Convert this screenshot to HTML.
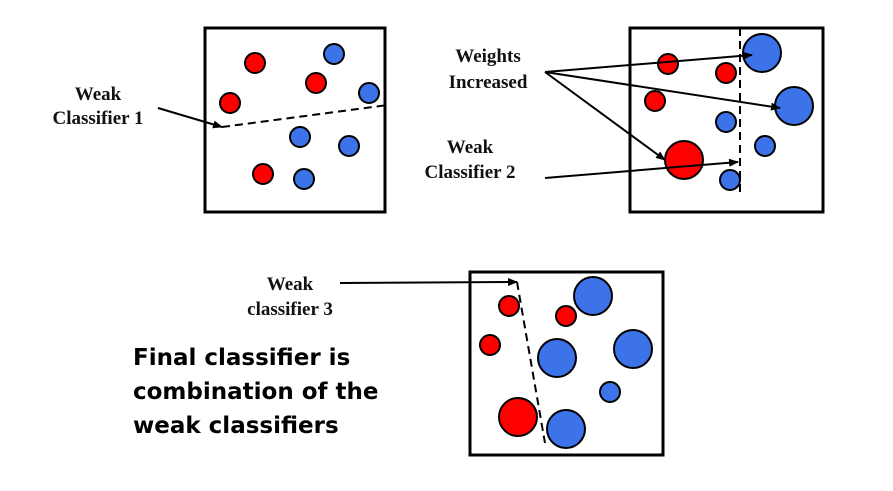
<!DOCTYPE html>
<html><head><meta charset="utf-8"><style>
body{margin:0;background:#fff}
svg{display:block}
.lbl{font-family:"Liberation Serif",serif;font-weight:bold;font-size:19px;fill:#111}
.fin{font-family:"DejaVu Sans","Liberation Sans",sans-serif;font-weight:bold;font-size:23px;fill:#000}
</style></head><body>
<svg width="893" height="491" viewBox="0 0 893 491">
<defs><marker id="ah" markerWidth="5" markerHeight="4" refX="4.5" refY="2" orient="auto"><path d="M0,0 L5,2 L0,4 z" fill="#000"/></marker></defs>
<g id="root"></g>
</svg>
<script>
const boxes=[[205,28,385,212],[630,28,823,212],[470,272,663,455]];
const circles1=[["r",255,63,10],["b",334,54,10],["r",316,83,10],["b",369,93,10],["r",230,103,10],["b",300,137,10],["b",349,146,10],["r",263,174,10],["b",304,179,10]];
const circles2=[["r",668,64,10],["r",726,73,10],["b",762,53,19],["r",655,101,10],["b",794,106,19],["b",726,122,10],["b",765,146,10],["r",684,160,19],["b",730,180,10]];
const circles3=[["r",509,306,10],["b",593,296,19],["r",566,316,10],["r",490,345,10],["b",557,358,19],["b",633,349,19],["b",610,392,10],["r",518,417,19],["b",566,429,19]];
const dashes=[[222,127,388,105],[740,28,740,195],[517,282,545,443]];
const arrows=[[158,108,222,127],[545,72,752,55],[545,72,780,108],[545,72,665,160],[545,178,738,162],[340,283,517,282]];
const labels=[[98,100,"Weak"],[98,124,"Classifier 1"],[488,62,"Weights"],[488,88,"Increased"],[470,153,"Weak"],[470,178,"Classifier 2"],[290,290,"Weak"],[290,315,"classifier 3"]];
const finals=["Final classifier is","combination of the","weak classifiers"];
const NS="http://www.w3.org/2000/svg",root=document.getElementById('root');
function mk(t,a){const e=document.createElementNS(NS,t);for(const k in a)e.setAttribute(k,a[k]);root.appendChild(e);return e;}
boxes.forEach((b,i)=>{const e=mk('rect',{x:b[0],y:b[1],width:b[2]-b[0],height:b[3]-b[1],fill:'none',stroke:'#000','stroke-width':3});

});
[circles1,circles2,circles3].forEach((cs,p)=>cs.forEach(c=>{const e=mk('circle',{cx:c[1],cy:c[2],r:c[3],fill:c[0]=='r'?'#f00':'#3d73e8',stroke:'#000','stroke-width':2});

}));
dashes.forEach(d=>{const e=mk('line',{x1:d[0],y1:d[1],x2:d[2],y2:d[3],stroke:'#000','stroke-width':2,'stroke-dasharray':'8,5'});

});
arrows.forEach(a=>{const e=mk('line',{x1:a[0],y1:a[1],x2:a[2],y2:a[3],stroke:'#000','stroke-width':2,'marker-end':'url(#ah)'});

});
labels.forEach(l=>{const e=mk('text',{x:l[0],y:l[1],'text-anchor':'middle',class:'lbl'});e.textContent=l[2];

});
finals.forEach((s,i)=>{const e=mk('text',{x:133,y:365+i*34,class:'fin'});e.textContent=s;

});
</script>
</body></html>
